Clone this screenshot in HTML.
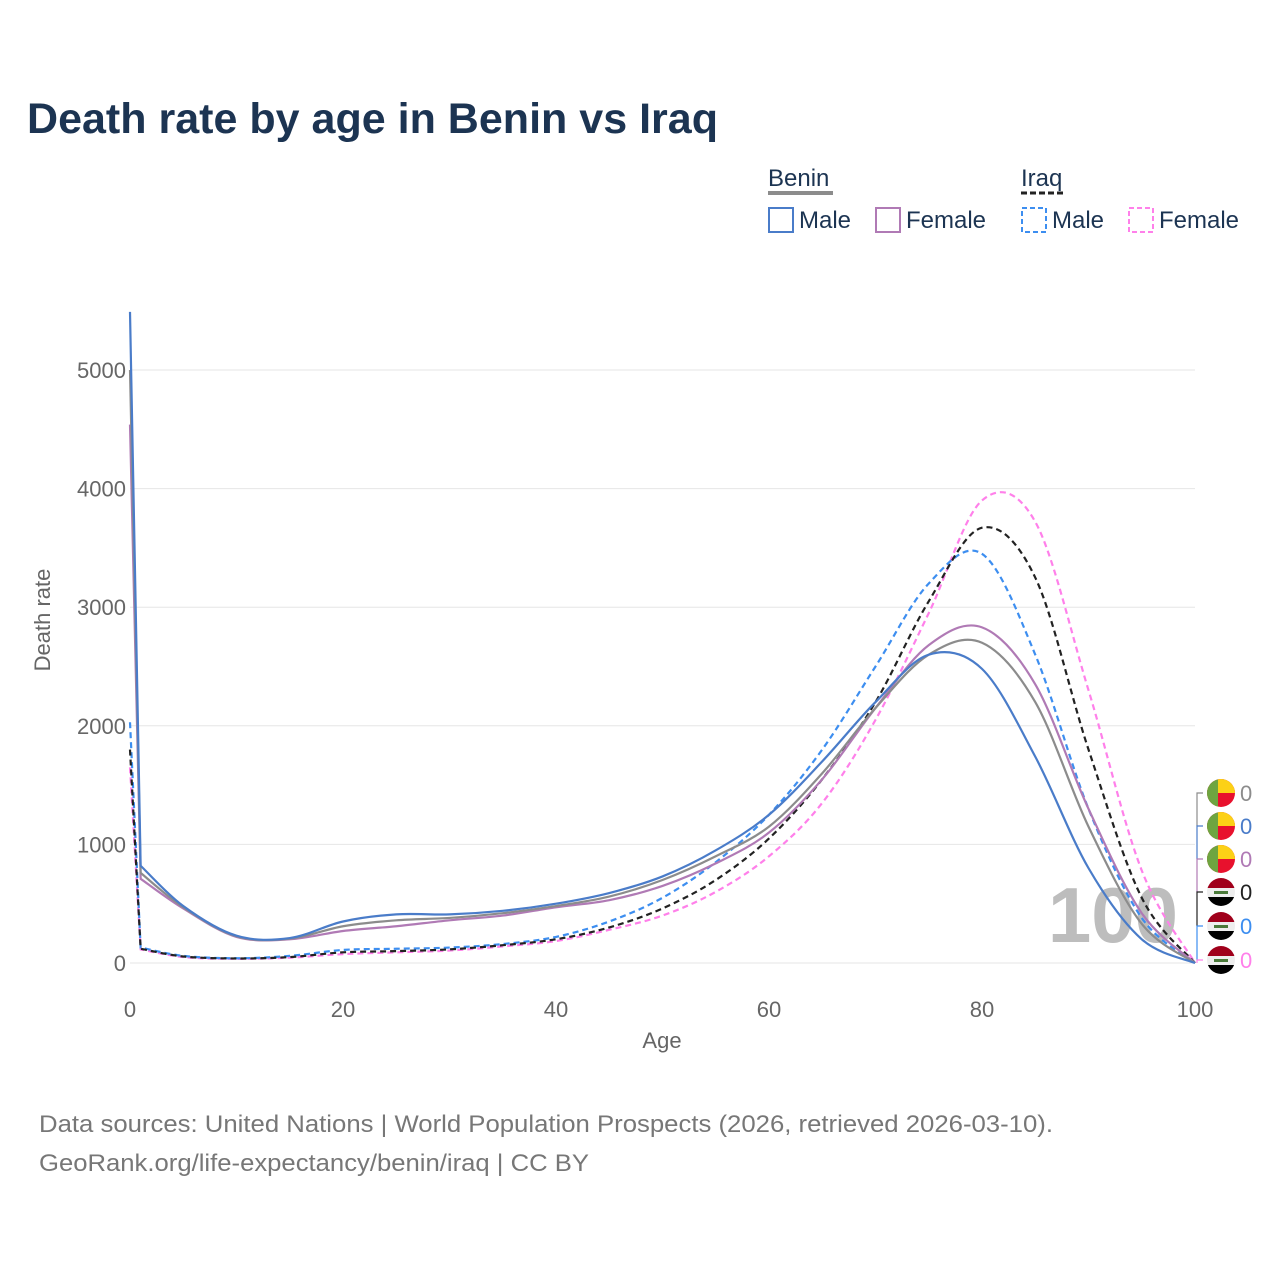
<!DOCTYPE html>
<html><head><meta charset="utf-8">
<style>
body{margin:0;background:#fff;width:1280px;height:1280px;overflow:hidden;font-family:"Liberation Sans",sans-serif}
</style></head>
<body>
<svg id="chart" width="1280" height="1280" xmlns="http://www.w3.org/2000/svg" font-family="Liberation Sans, sans-serif">
<text x="27" y="133" font-size="43" font-weight="bold" fill="#1c3452" textLength="691" lengthAdjust="spacingAndGlyphs">Death rate by age in Benin vs Iraq</text>
<g font-size="24" fill="#1c3452">
<text x="768" y="186">Benin</text>
<line x1="768" y1="193" x2="833" y2="193" stroke="#8c8c8c" stroke-width="4"/>
<rect x="769" y="208" width="24" height="24" fill="none" stroke="#4a7cc9" stroke-width="2"/>
<text x="799" y="228">Male</text>
<rect x="876" y="208" width="24" height="24" fill="none" stroke="#b07ab5" stroke-width="2"/>
<text x="906" y="228">Female</text>
<text x="1021" y="186">Iraq</text>
<line x1="1021" y1="193" x2="1066" y2="193" stroke="#222" stroke-width="3" stroke-dasharray="6,3"/>
<rect x="1022" y="208" width="24" height="24" fill="none" stroke="#3d8ef0" stroke-width="2" stroke-dasharray="5,3"/>
<text x="1052" y="228">Male</text>
<rect x="1129" y="208" width="24" height="24" fill="none" stroke="#ff80ea" stroke-width="2" stroke-dasharray="5,3"/>
<text x="1159" y="228">Female</text>
</g>
<g id="grid"></g>
<text x="1113" y="942" font-size="78" font-weight="bold" fill="#bdbdbd" text-anchor="middle">100</text>
<g id="series"></g>
<g id="axes" font-size="22" fill="#666"></g>
<text transform="translate(50,620) rotate(-90)" font-size="22" fill="#666" text-anchor="middle">Death rate</text>
<text x="662" y="1048" font-size="22" fill="#666" text-anchor="middle">Age</text>
<g id="endlabels"></g>
<text x="39" y="1132" font-size="24" fill="#777" textLength="1014" lengthAdjust="spacingAndGlyphs">Data sources: United Nations | World Population Prospects (2026, retrieved 2026-03-10).</text>
<text x="39" y="1171" font-size="24" fill="#777" textLength="550" lengthAdjust="spacingAndGlyphs">GeoRank.org/life-expectancy/benin/iraq | CC BY</text>
</svg>
<script>
const ages = [0,1,5,10,15,20,25,30,35,40,45,50,55,60,65,70,75,80,85,90,95,100];
const beninMale  =[5490,820,480,230,210,350,410,410,440,500,590,730,950,1250,1700,2200,2600,2480,1740,800,200,0];
const beninTotal =[5000,760,470,225,205,310,360,380,420,480,560,700,900,1150,1600,2150,2600,2700,2200,1150,330,0];
const beninFemale=[4540,710,460,220,200,270,310,360,400,470,530,650,840,1100,1550,2150,2680,2830,2350,1300,420,0];
const iraqMale   =[2030,130,60,40,60,110,120,130,160,220,350,550,850,1250,1800,2500,3200,3450,2600,1300,380,0];
const iraqTotal  =[1800,120,55,38,50,90,100,115,150,200,300,460,700,1050,1550,2200,3050,3670,3250,1800,550,0];
const iraqFemale =[1650,115,50,35,45,75,90,105,140,185,280,400,600,900,1350,2050,2950,3900,3720,2300,780,0];
const yTicks=[0,1000,2000,3000,4000,5000];
const xTicks=[0,20,40,60,80,100];
const X=a=>130+a*10.65;
const Y=v=>963-v*0.1186;
const NS="http://www.w3.org/2000/svg";
function mk(t,attrs,parent){const e=document.createElementNS(NS,t);for(const k in attrs)e.setAttribute(k,attrs[k]);parent.appendChild(e);return e;}
const grid=document.getElementById('grid'),axes=document.getElementById('axes');
yTicks.forEach(v=>{
 const l=mk('line',{x1:130,x2:1195,y1:Y(v),y2:Y(v),stroke:'#e6e6e6','stroke-width':1},grid);
 
 
 const t=mk('text',{x:126,y:Y(v)+8,'text-anchor':'end'},axes);t.textContent=v;
 
 
});
xTicks.forEach(v=>{
 const t=mk('text',{x:X(v),y:1017,'text-anchor':'middle'},axes);t.textContent=v;
 
 
});
function path(vals){
 const p=ages.map((a,i)=>[X(a),Y(vals[i])]);
 let d=`M${p[0][0]},${p[0][1]} L${p[1][0]},${p[1][1]}`;
 for(let i=1;i<p.length-1;i++){
  const p0=p[Math.max(i-1,1)],p1=p[i],p2=p[i+1],p3=p[Math.min(i+2,p.length-1)];
  const c1=[p1[0]+(p2[0]-p0[0])/6,p1[1]+(p2[1]-p0[1])/6];
  const c2=[p2[0]-(p3[0]-p1[0])/6,p2[1]-(p3[1]-p1[1])/6];
  d+=` C${c1[0]},${c1[1]} ${c2[0]},${c2[1]} ${p2[0]},${p2[1]}`;
 }
 return d;
}
const series=[
 ['iraq-female-line',iraqFemale,'#ff80ea','6,4'],
 ['iraq-male-line',iraqMale,'#3d8ef0','6,4'],
 ['iraq-total-line',iraqTotal,'#222','6,4'],
 ['benin-female-line',beninFemale,'#b07ab5',''],
 ['benin-total-line',beninTotal,'#8c8c8c',''],
 ['benin-male-line',beninMale,'#4a7cc9','']
];
const sg=document.getElementById('series');
series.forEach(s=>{
 const e=mk('path',{d:path(s[1]),fill:'none',stroke:s[2],'stroke-width':2.2},sg);
 if(s[3])e.setAttribute('stroke-dasharray',s[3]);
 
 
});
const el=document.getElementById('endlabels');
const ends=[['benin','#8c8c8c',793],['benin','#4a7cc9',826],['benin','#b07ab5',859],['iraq','#222',892],['iraq','#3d8ef0',926],['iraq','#ff80ea',960]];
ends.forEach((e,i)=>{
 const ln=mk('path',{d:`M1203,${e[2]} H1197 V${i<5?ends[i+1][2]:963}`,fill:'none',stroke:e[1],'stroke-width':1.2},el);
 
 
 const g=mk('g',{},el);
 
 
 const cx=1221,cy=e[2],r=14;
 const cid='c'+i;
 const cp=mk('clipPath',{id:cid},g);mk('circle',{cx,cy,r},cp);
 const f=mk('g',{'clip-path':`url(#${cid})`},g);
 if(e[0]==='benin'){
  mk('rect',{x:cx-r,y:cy-r,width:2*r,height:2*r,fill:'#e8112d'},f);
  mk('rect',{x:cx-3,y:cy-r,width:r+3,height:r,fill:'#fcd116'},f);
  mk('rect',{x:cx-r,y:cy-r,width:r-3,height:2*r,fill:'#6ea540'},f);
 }else{
  mk('rect',{x:cx-r,y:cy-r,width:2*r,height:10,fill:'#a0001b'},f);
  mk('rect',{x:cx-r,y:cy-4,width:2*r,height:9,fill:'#eee'},f);
  mk('rect',{x:cx-r,y:cy+5,width:2*r,height:10,fill:'#000'},f);
  mk('rect',{x:cx-7,y:cy-1,width:14,height:3,fill:'#4a7a3a'},f);
 }
 const t=mk('text',{x:1240,y:e[2]+8,'font-size':22,fill:e[1]},el);t.textContent='0';
 
 
});
</script>
</body></html>
